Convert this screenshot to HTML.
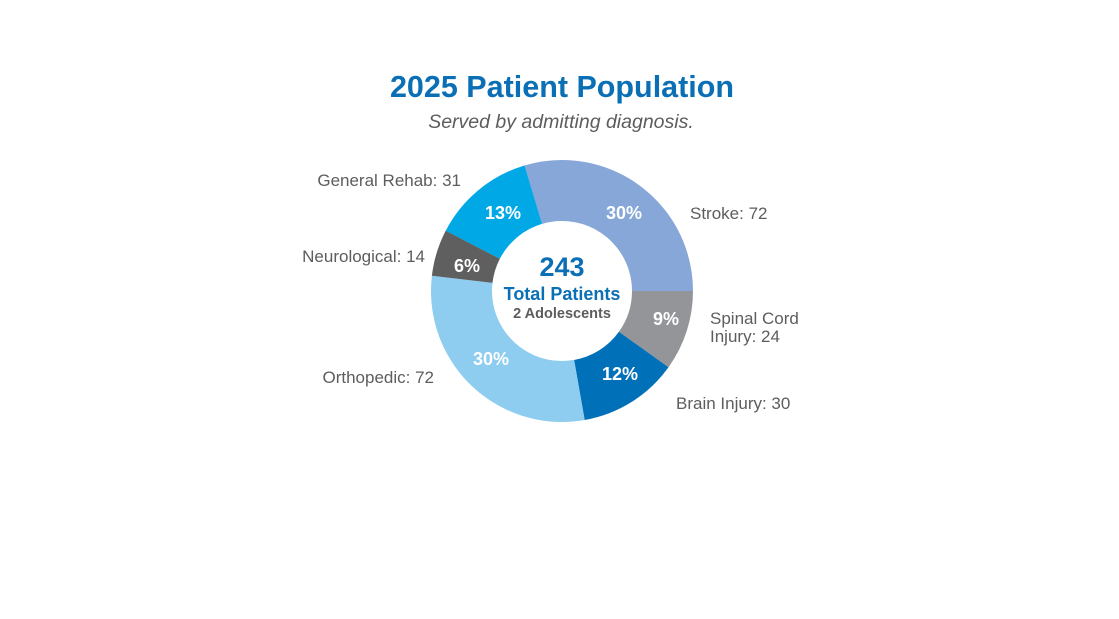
<!DOCTYPE html>
<html><head><style>
body{margin:0;background:#fff;width:1119px;height:614px;overflow:hidden;font-family:"Liberation Sans",sans-serif}
</style></head><body>
<svg width="1119" height="614" viewBox="0 0 1119 614" xmlns="http://www.w3.org/2000/svg">
<text x="562" y="97" text-anchor="middle" font-size="30.5" font-weight="bold" fill="#0a6fb5" font-family="Liberation Sans">2025 Patient Population</text>
<text x="561" y="128" text-anchor="middle" font-size="19.5" font-style="italic" fill="#5d5d5d" font-family="Liberation Sans">Served by admitting diagnosis.</text>
<g fill="none" stroke-width="61">
<circle cx="562" cy="291" r="100.5" stroke="#86a7d8" stroke-dasharray="187.1 1000" transform="rotate(-106.7 562 291)"/>
<circle cx="562" cy="291" r="100.5" stroke="#939598" stroke-dasharray="62.4 1000" transform="rotate(0 562 291)"/>
<circle cx="562" cy="291" r="100.5" stroke="#0070b8" stroke-dasharray="78.0 1000" transform="rotate(35.6 562 291)"/>
<circle cx="562" cy="291" r="100.5" stroke="#8ecdf0" stroke-dasharray="187.1 1000" transform="rotate(80 562 291)"/>
<circle cx="562" cy="291" r="100.5" stroke="#5f5f5f" stroke-dasharray="36.4 1000" transform="rotate(186.7 562 291)"/>
<circle cx="562" cy="291" r="100.5" stroke="#00a9e6" stroke-dasharray="80.6 1000" transform="rotate(207.4 562 291)"/>
</g>
<g font-size="18" font-weight="bold" fill="#fff" text-anchor="middle" font-family="Liberation Sans">
<text x="624" y="219">30%</text>
<text x="666" y="325">9%</text>
<text x="620" y="380">12%</text>
<text x="491" y="365">30%</text>
<text x="467" y="272">6%</text>
<text x="503" y="219">13%</text>
</g>
<text x="562" y="276" text-anchor="middle" font-size="27" font-weight="bold" fill="#0a6fb5">243</text>
<text x="562" y="300" text-anchor="middle" font-size="18" font-weight="bold" fill="#0a6fb5">Total Patients</text>
<text x="562" y="318" text-anchor="middle" font-size="14.5" font-weight="bold" fill="#5d5d5d">2 Adolescents</text>
<g font-size="17" fill="#5d5d5d" font-family="Liberation Sans">
<text x="690" y="219">Stroke: 72</text>
<text x="710" y="324">Spinal Cord</text>
<text x="710" y="342">Injury: 24</text>
<text x="676" y="409">Brain Injury: 30</text>
<text x="434" y="383" text-anchor="end">Orthopedic: 72</text>
<text x="425" y="262" text-anchor="end">Neurological: 14</text>
<text x="461" y="186" text-anchor="end">General Rehab: 31</text>
</g>
</svg>
</body></html>
